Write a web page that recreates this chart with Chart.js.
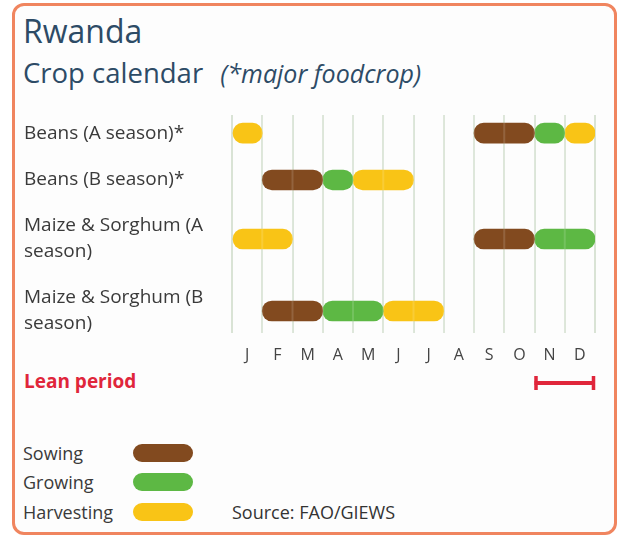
<!DOCTYPE html>
<html>
<head>
<meta charset="utf-8">
<script src="https://cdn.jsdelivr.net/npm/chart.js@4"></script>
<style>
  html, body { margin: 0; padding: 0; background: #fff; }
  body { width: 620px; height: 537px; position: relative; overflow: hidden; font-family: 'Open Sans', sans-serif; }
  .frame {
    position: absolute; left: 12px; top: 3px; width: 599px; height: 526px;
    border: 3px solid #f0855f; border-radius: 12px; background: #fdfdfd;
  }
  .t { position: absolute; white-space: nowrap; line-height: 1; }
  #title { left: 23px; top: 15px; font-size: 32px; color: #2d4b66; }
  #subtitle { left: 23px; top: 59px; font-size: 27.5px; color: #2d4b66; }
  #subtitle i { font-size: 25px; margin-left: 10px; }
  #lean { left: 24px; top: 372px; font-size: 19px; font-weight: bold; color: #e0263b; }
  .legend { position: absolute; left: 23px; top: 438px; }
  .legend-row { display: flex; align-items: center; height: 29.5px; font-size: 18px; color: #3a3a3a; }
  .legend-row span { width: 110px; }
  .legend-row div { width: 60px; height: 18px; border-radius: 9px; }
  #source { left: 232px; top: 503px; font-size: 18px; color: #333; }
  canvas { position: absolute; left: 0; top: 0; }
</style>
</head>
<body>
<div class="frame"></div>
<div class="t" id="title">Rwanda</div>
<div class="t" id="subtitle">Crop calendar <i>(*major foodcrop)</i></div>
<div class="t" id="lean">Lean period</div>
<div class="legend" id="legend"></div>
<div class="t" id="source">Source: FAO/GIEWS</div>
<canvas id="calendar" width="620" height="537"></canvas>
<script>
// Months on the x axis
const months = ['J', 'F', 'M', 'A', 'M', 'J', 'J', 'A', 'S', 'O', 'N', 'D'];

// Crops (rows, top to bottom)
const crops = ['Beans (A season)*', 'Beans (B season)*', 'Maize & Sorghum (A season)', 'Maize & Sorghum (B season)'];

// Stage periods: [crop index, first month, last month] (months 1-12, inclusive)
const sowing = [[0, 9, 10], [1, 2, 3], [2, 9, 10], [3, 2, 3]];
const growing = [[0, 11, 11], [1, 4, 4], [2, 11, 12], [3, 4, 5]];
const harvesting = [[0, 1, 1], [0, 12, 12], [1, 5, 6], [2, 1, 2], [3, 6, 7]];

// Lean period: first and last month
const leanPeriod = [11, 12];

const stages = [
  { name: 'Sowing', periods: sowing, color: '#824a1f' },
  { name: 'Growing', periods: growing, color: '#5db844' },
  { name: 'Harvesting', periods: harvesting, color: '#f9c416' }
];

// Layout: row centres on a 0..10 y scale (rows with two-line labels sit further apart)
const rowSlots = [0.83, 2.98, 5.69, 8.99];
const gridColor = '#d9e3d5';
const textColor = '#3a3a3a';
const fontFamily = "'Open Sans', sans-serif";
const labelSize = 19;

// Legend (HTML)
const legend = document.getElementById('legend');
stages.forEach(s => {
  const row = document.createElement('div');
  row.className = 'legend-row';
  row.innerHTML = `<span>${s.name}</span><div style="background:${s.color}"></div>`;
  legend.appendChild(row);
});

// Wrap crop names to fit the label column
const measure = document.createElement('canvas').getContext('2d');
measure.font = `${labelSize}px ${fontFamily}`;
function wrap(text, maxWidth) {
  const words = text.split(' ');
  const lines = [];
  let line = '';
  words.forEach(w => {
    const test = line ? line + ' ' + w : w;
    if (measure.measureText(test).width > maxWidth && line) {
      lines.push(line);
      line = w;
    } else {
      line = test;
    }
  });
  lines.push(line);
  return lines.length === 1 ? lines[0] : lines;
}

// Faint month lines over the bars, like the original print
const overlayLines = {
  id: 'overlayLines',
  afterDatasetsDraw(chart) {
    const { ctx, chartArea, scales: { x } } = chart;
    ctx.save();
    ctx.strokeStyle = 'rgba(255,255,255,0.14)';
    ctx.lineWidth = 2;
    for (let m = 1; m < 12; m++) {
      const px = x.getPixelForValue(m);
      ctx.beginPath();
      ctx.moveTo(px, chartArea.top);
      ctx.lineTo(px, chartArea.bottom);
      ctx.stroke();
    }
    ctx.restore();
  }
};

// Lean period marker under the month labels
const leanMarker = {
  id: 'leanMarker',
  afterDraw(chart) {
    const { ctx, chartArea, scales: { x } } = chart;
    const x0 = x.getPixelForValue(leanPeriod[0] - 1);
    const x1 = x.getPixelForValue(leanPeriod[1]);
    const y = chartArea.bottom + 50;
    ctx.save();
    ctx.strokeStyle = '#e0263b';
    ctx.lineWidth = 4;
    ctx.beginPath();
    ctx.moveTo(x0, y);
    ctx.lineTo(x1, y);
    ctx.stroke();
    ctx.lineWidth = 3.5;
    ctx.beginPath();
    ctx.moveTo(x0 + 1.5, y - 7);
    ctx.lineTo(x0 + 1.5, y + 7);
    ctx.moveTo(x1 - 1.5, y - 7);
    ctx.lineTo(x1 - 1.5, y + 7);
    ctx.stroke();
    ctx.restore();
  }
};

new Chart(document.getElementById('calendar'), {
  type: 'bar',
  data: {
    datasets: stages.map(s => ({
      label: s.name,
      data: s.periods.map(([crop, from, to]) => ({ x: [from - 1, to], y: rowSlots[crop] })),
      backgroundColor: s.color,
      borderWidth: 0,
      borderRadius: 10,
      borderSkipped: false,
      barThickness: 20,
      grouped: false
    }))
  },
  options: {
    indexAxis: 'y',
    responsive: false,
    animation: false,
    events: [],
    layout: { padding: { left: 24, right: 25, top: 115, bottom: 168 } },
    plugins: { legend: { display: false }, tooltip: { enabled: false } },
    scales: {
      x: {
        type: 'linear',
        min: 0,
        max: 12,
        border: { display: false },
        grid: {
          drawTicks: false,
          lineWidth: 2,
          color: (c) => (c.tick && Number.isInteger(c.tick.value)) ? gridColor : 'transparent'
        },
        ticks: {
          stepSize: 0.5,
          autoSkip: false,
          maxRotation: 0,
          padding: 13,
          color: '#444',
          font: { family: fontFamily, size: 16 },
          callback: (v) => Number.isInteger(v) ? '' : months[Math.floor(v)]
        },
        afterFit: (scale) => { scale.height = 36; }
      },
      y: {
        type: 'linear',
        min: 0,
        max: 10,
        reverse: true,
        offset: false,
        border: { display: false },
        grid: { display: false },
        afterBuildTicks: (scale) => { scale.ticks = rowSlots.map(v => ({ value: v })); },
        afterFit: (scale) => { scale.width = 208; },
        ticks: {
          autoSkip: false,
          crossAlign: 'far',
          color: textColor,
          font: { family: fontFamily, size: labelSize, lineHeight: 1.37 },
          callback: (v, i) => wrap(crops[i], 195)
        }
      }
    }
  },
  plugins: [overlayLines, leanMarker]
});
</script>
</body>
</html>
